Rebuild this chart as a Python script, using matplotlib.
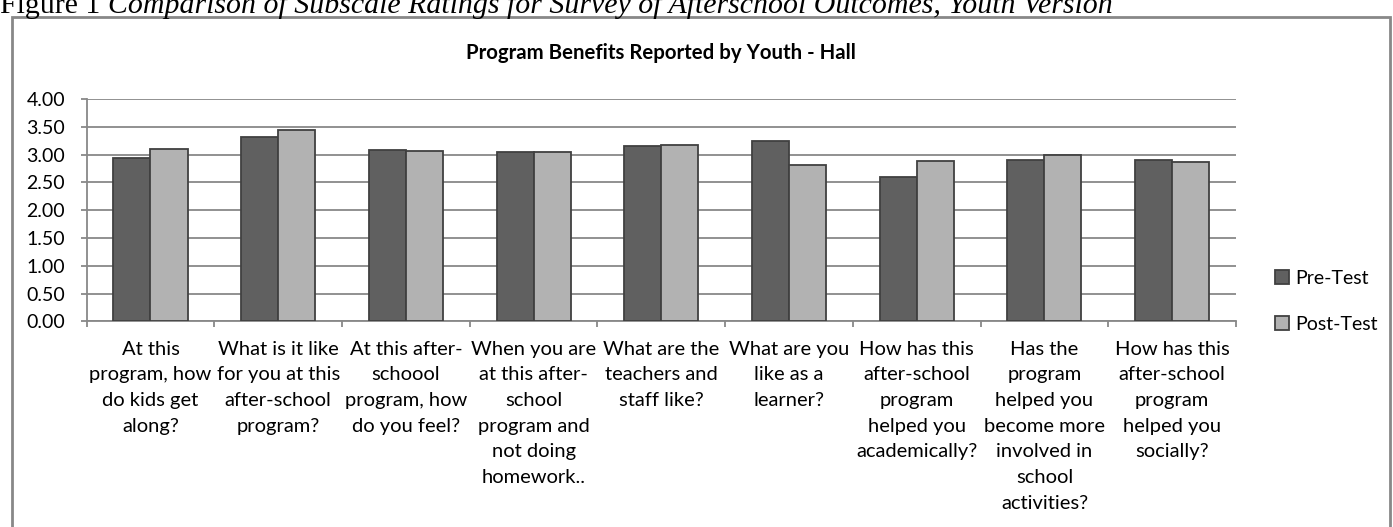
import matplotlib.pyplot as plt
import matplotlib.patches as mpatches
import numpy as np

# survey questions (wrapped as on the axis) and mean ratings
questions = [
    "At this\nprogram, how\ndo kids get\nalong?",
    "What is it like\nfor you at this\nafter-school\nprogram?",
    "At this after-\nschoool\nprogram, how\ndo you feel?",
    "When you are\nat this after-\nschool\nprogram and\nnot doing\nhomework..",
    "What are the\nteachers and\nstaff like?",
    "What are you\nlike as a\nlearner?",
    "How has this\nafter-school\nprogram\nhelped you\nacademically?",
    "Has the\nprogram\nhelped you\nbecome more\ninvolved in\nschool\nactivities?",
    "How has this\nafter-school\nprogram\nhelped you\nsocially?",
]
pre_test = [2.94, 3.31, 3.08, 3.04, 3.15, 3.24, 2.59, 2.90, 2.90]
post_test = [3.10, 3.44, 3.07, 3.05, 3.18, 2.81, 2.88, 3.00, 2.86]
y_ticks = [0, 0.5, 1, 1.5, 2, 2.5, 3, 3.5, 4]

font = "Lato"
grey = "#888888"

fig = plt.figure(figsize=(13.93, 5.27), dpi=100)
ax = fig.add_axes([0.0622, 0.3903, 0.8251, 0.4218])

x = np.arange(len(questions))
w = 0.29
ax.bar(x - w / 2, pre_test, w, color="#606060", edgecolor="#404040",
       linewidth=1.3, label="Pre-Test", zorder=3)
ax.bar(x + w / 2, post_test, w, color="#b2b2b2", edgecolor="#404040",
       linewidth=1.3, label="Post-Test", zorder=3)

ax.set_xlim(-0.5, len(questions) - 0.5)
ax.set_ylim(0, 4)
ax.set_yticks(y_ticks)
ax.set_yticklabels([f"{v:.2f}" for v in y_ticks], fontsize=14, family=font)
ax.yaxis.grid(True, color=grey, linewidth=1.3, zorder=0)

# labels at bar groups, tick marks between groups
ax.set_xticks(x)
ax.set_xticklabels(questions, fontsize=14.5, family=font, linespacing=1.62,
                   va="top", ha="center", multialignment="center")
ax.set_xticks(np.arange(len(questions) + 1) - 0.5, minor=True)
ax.tick_params(axis="x", which="major", length=0, pad=14)
ax.tick_params(axis="x", which="minor", length=4.5, color=grey, width=1.3)
ax.tick_params(axis="y", length=4.5, color=grey, width=1.3, pad=11)

for side in ["top", "right"]:
    ax.spines[side].set_visible(False)
for side in ["left", "bottom"]:
    ax.spines[side].set_color(grey)
    ax.spines[side].set_linewidth(1.3)

ax.set_title("Program Benefits Reported by Youth - Hall", fontsize=14.7,
             fontweight="bold", family=font, pad=29)

leg = ax.legend(loc="center left", bbox_to_anchor=(0.903, 0.428),
                bbox_transform=fig.transFigure, frameon=False,
                prop={"family": font, "size": 14}, handlelength=0.7,
                handleheight=0.7, handletextpad=0.3, labelspacing=1.5)

# chart frame
fig.patches.append(mpatches.Rectangle((12 / 1393, -0.05), 1378 / 1393, 1.05 - 17 / 527,
                                      transform=fig.transFigure, fill=False,
                                      edgecolor=grey, linewidth=2))

# figure caption above the chart
fig.text(0, 1 - 13 / 527, "Figure 1", fontsize=21.5, family="Liberation Serif",
         va="baseline", ha="left")
fig.text(0.0775, 1 - 13 / 527,
         "Comparison of Subscale Ratings for Survey of Afterschool Outcomes, Youth Version",
         fontsize=21.5, family="Liberation Serif", style="italic", va="baseline", ha="left")

fig.savefig("out.png", dpi=100)
